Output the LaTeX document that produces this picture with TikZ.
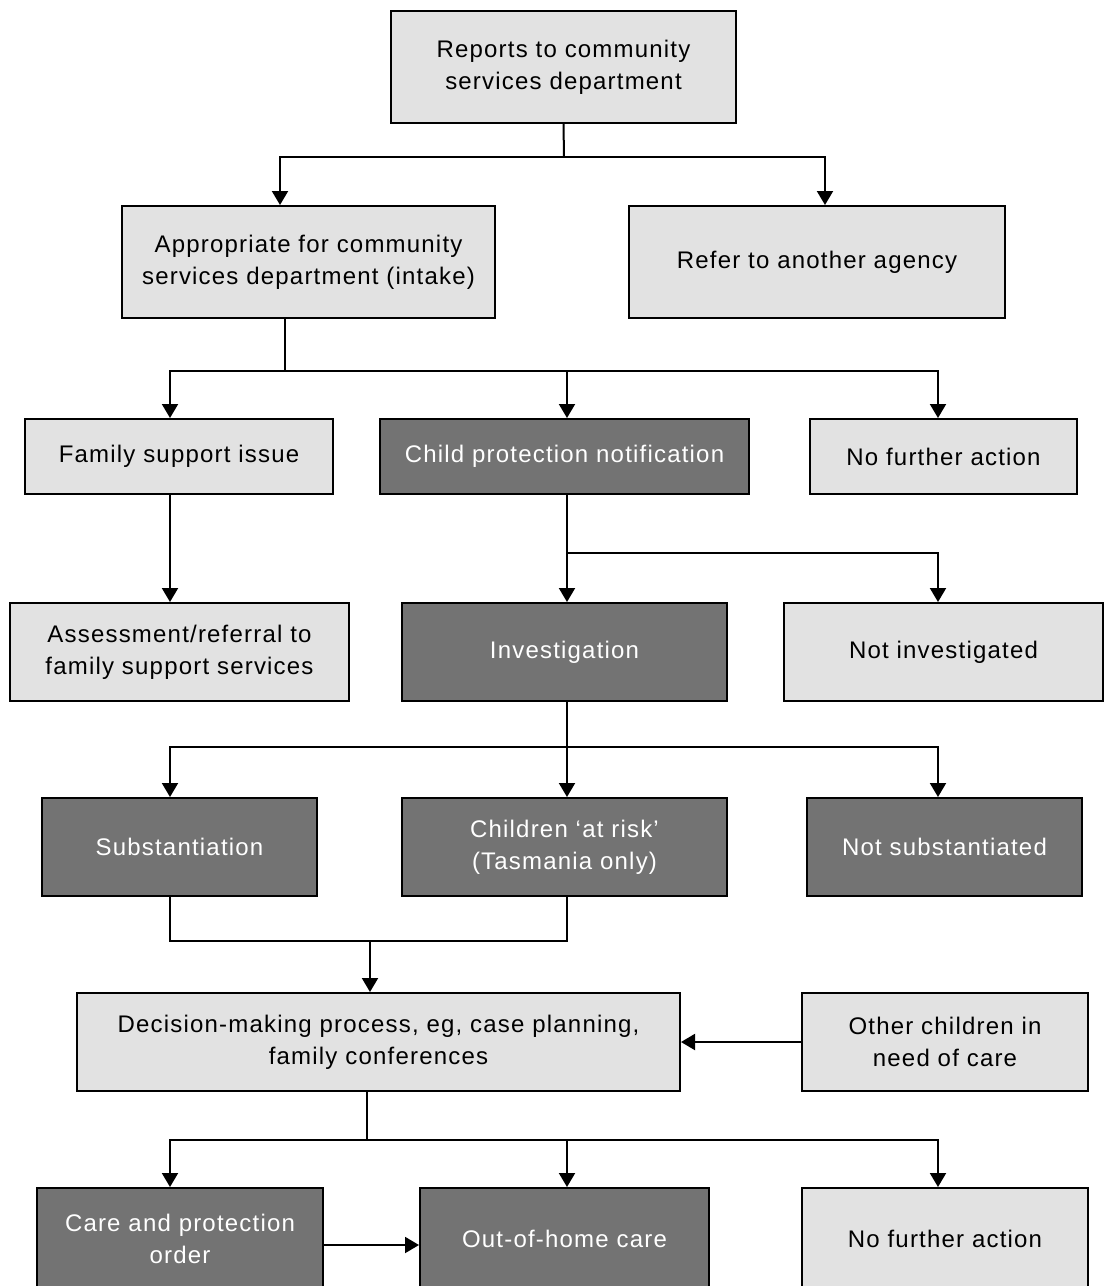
\documentclass[tikz,border=0pt]{standalone}
\usepackage{fontspec}
\setmainfont[LetterSpace=5]{Liberation Sans}
\usetikzlibrary{arrows.meta}
\definecolor{lightbox}{HTML}{E2E2E2}
\definecolor{darkbox}{HTML}{737373}
\tikzset{
  boxbase/.style={draw=black, line width=2pt, align=center, inner sep=0pt,
    font=\fontsize{24}{32}\selectfont},
  lightnode/.style={boxbase, fill=lightbox, text=black},
  darknode/.style={boxbase, fill=darkbox, text=white},
  conn/.style={line width=2pt},
  arr/.style={line width=2pt, -{Triangle[width=16pt,length=14pt]}},
}
\newcommand{\bx}[7]{% style, name, x1, y1, x2, y2, text
  \node[#1, minimum width={#5-#3}, minimum height={#6-#4}] (#2) at ({(#3+#5)/2},{(#4+#6)/2}) {#7};}
\begin{document}
\begin{tikzpicture}[x=1pt,y=-1pt]
\useasboundingbox (0,0) rectangle (1104,1286);
\clip (0,0) rectangle (1104,1286);
\fill[white] (0,0) rectangle (1104,1286);
% boxes
\bx{lightnode}{rep}{391}{11}{736}{123}{Reports to community\\services department}
\bx{lightnode}{app}{122}{206}{495}{318}{Appropriate for community\\services department (intake)}
\bx{lightnode}{ref}{629}{206}{1005}{318}{Refer to another agency}
\bx{lightnode}{fam}{25}{419}{333}{494}{Family support issue}
\bx{darknode}{cpn}{380}{419}{749}{494}{Child protection notification}
\bx{lightnode}{nfa}{810}{419}{1077}{494}{No further action}
\bx{lightnode}{ass}{10}{603}{349}{701}{Assessment/referral to\\family support services}
\bx{darknode}{inv}{402}{603}{727}{701}{Investigation}
\bx{lightnode}{noti}{784}{603}{1103}{701}{Not investigated}
\bx{darknode}{sub}{42}{798}{317}{896}{Substantiation}
\bx{darknode}{risk}{402}{798}{727}{896}{Children `at risk'\\(Tasmania only)}
\bx{darknode}{nsub}{807}{798}{1082}{896}{Not substantiated}
\bx{lightnode}{dec}{77}{993}{680}{1091}{Decision-making process, eg, case planning,\\family conferences}
\bx{lightnode}{oth}{802}{993}{1088}{1091}{Other children in\\need of care}
\bx{darknode}{cpo}{37}{1188}{323}{1290}{Care and protection\\order}
\bx{darknode}{ohc}{420}{1188}{709}{1290}{Out-of-home care}
\bx{lightnode}{nfa2}{802}{1188}{1088}{1290}{No further action}
% junction coordinates
\coordinate (j1) at (564,157);
\coordinate (j2) at (285,371);
\coordinate (j3) at (567,553);
\coordinate (j4) at (567,747);
\coordinate (j5) at (370,941);
\coordinate (j6) at (367,1140);
% level 1
\draw[conn] (rep.south) -- (j1);
\draw[arr] (j1) -| (app.north -| 280,0);
\draw[arr] (j1) -| (ref.north -| 825,0);
% level 2
\draw[conn] (app.south -| j2) -- (j2);
\draw[arr] (j2) -| (fam.north -| 170,0);
\draw[arr] (j2) -| (cpn.north -| 567,0);
\draw[arr] (j2) -| (nfa.north -| 938,0);
% family support
\draw[arr] (fam.south -| 170,0) -- (ass.north -| 170,0);
% child protection
\draw[arr] (cpn.south -| 567,0) -- (inv.north -| 567,0);
\draw[arr] (j3) -| (noti.north -| 938,0);
% investigation
\draw[arr] (inv.south -| 567,0) -- (risk.north -| 567,0);
\draw[arr] (j4) -| (sub.north -| 170,0);
\draw[arr] (j4) -| (nsub.north -| 938,0);
% merge
\draw[conn] (sub.south -| 170,0) |- (j5) -| (risk.south -| 567,0);
\draw[arr] (j5) -- (dec.north -| j5);
\draw[arr] (oth.west) -- (dec.east);
% decision
\draw[conn] (dec.south -| j6) -- (j6);
\draw[arr] (j6) -| (cpo.north -| 170,0);
\draw[arr] (j6) -| (ohc.north -| 567,0);
\draw[arr] (j6) -| (nfa2.north -| 938,0);
\draw[arr] (cpo.east |- 0,1245) -- (ohc.west |- 0,1245);
\end{tikzpicture}
\end{document}
